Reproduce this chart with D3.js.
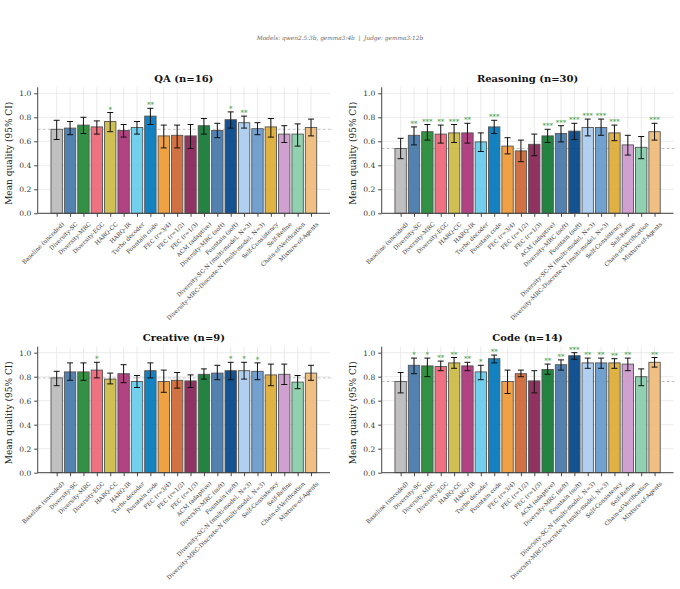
<!DOCTYPE html>
<html>
<head>
<meta charset="utf-8">
<script src="https://cdn.jsdelivr.net/npm/d3@7"></script>
<style>
  body { margin: 0; background: #fff; }
  svg { font-family: "DejaVu Serif", serif; }
</style>
</head>
<body>
<svg id="plot"></svg>
<script>
// methods on the x axis
const methods = [
  "Baseline (uncoded)", "Diversity-SC", "Diversity-MRC", "Diversity-EGC", "HARQ-CC",
  "HARQ-IR", "Turbo decoder", "Fountain code", "FEC (r=3/4)", "FEC (r=1/2)",
  "FEC (r=1/3)", "ACM (adaptive)", "Diversity-MRC (soft)", "Fountain (soft)",
  "Diversity-SC-N (multi-model, N=3)", "Diversity-MRC-Discrete-N (multi-model, N=3)",
  "Self-Consistency", "Self-Refine", "Chain-of-Verification", "Mixture-of-Agents"
];

const palette = [
  "#bbbbbb", "#4477aa", "#228833", "#ee6677", "#ccbb44", "#aa3377", "#66ccee",
  "#0077bb", "#ee9933", "#cc6633", "#882255", "#117733", "#4477aa", "#004488",
  "#aaccee", "#6699cc", "#ddaa33", "#cc99cc", "#88ccaa", "#eebb77"
];

const yTicks = [0, 0.2, 0.4, 0.6, 0.8, 1.0];

// QA
const qaMean = [0.70, 0.71, 0.735, 0.72, 0.765, 0.69, 0.715, 0.81, 0.645, 0.65, 0.645, 0.73, 0.69, 0.78, 0.755, 0.705, 0.72, 0.66, 0.66, 0.715];
const qaLo   = [0.615, 0.655, 0.665, 0.66, 0.68, 0.635, 0.66, 0.74, 0.545, 0.545, 0.54, 0.66, 0.63, 0.71, 0.71, 0.655, 0.635, 0.59, 0.56, 0.645];
const qaHi   = [0.775, 0.765, 0.80, 0.77, 0.84, 0.74, 0.765, 0.875, 0.735, 0.735, 0.74, 0.79, 0.75, 0.845, 0.81, 0.755, 0.79, 0.73, 0.745, 0.785];
const qaSig  = ["", "", "", "", "*", "", "", "**", "", "", "", "", "", "*", "**", "", "", "", "", ""];

// Reasoning
const reMean = [0.54, 0.65, 0.68, 0.66, 0.67, 0.67, 0.595, 0.72, 0.56, 0.52, 0.575, 0.645, 0.665, 0.685, 0.715, 0.715, 0.67, 0.57, 0.55, 0.68];
const reLo   = [0.455, 0.57, 0.61, 0.585, 0.59, 0.585, 0.515, 0.665, 0.495, 0.43, 0.48, 0.59, 0.595, 0.615, 0.645, 0.65, 0.605, 0.485, 0.455, 0.61];
const reHi   = [0.625, 0.72, 0.74, 0.735, 0.74, 0.75, 0.67, 0.775, 0.63, 0.61, 0.66, 0.70, 0.73, 0.75, 0.785, 0.785, 0.735, 0.65, 0.64, 0.75];
const reSig  = ["", "**", "***", "**", "***", "**", "", "***", "", "", "", "***", "***", "***", "***", "***", "***", "", "", "***"];

// Creative
const crMean = [0.79, 0.84, 0.84, 0.855, 0.78, 0.825, 0.76, 0.85, 0.76, 0.77, 0.765, 0.82, 0.83, 0.85, 0.85, 0.845, 0.815, 0.82, 0.755, 0.83];
const crLo   = [0.725, 0.77, 0.77, 0.79, 0.74, 0.75, 0.71, 0.79, 0.67, 0.705, 0.71, 0.78, 0.775, 0.775, 0.78, 0.775, 0.725, 0.735, 0.70, 0.77];
const crHi   = [0.845, 0.915, 0.915, 0.92, 0.83, 0.90, 0.81, 0.915, 0.855, 0.835, 0.815, 0.865, 0.895, 0.92, 0.92, 0.915, 0.905, 0.905, 0.81, 0.895];
const crSig  = ["", "", "", "*", "", "", "", "", "", "", "", "", "", "*", "*", "*", "", "", "", ""];

// Code
const coMean = [0.76, 0.895, 0.89, 0.885, 0.915, 0.89, 0.84, 0.95, 0.76, 0.825, 0.765, 0.86, 0.90, 0.975, 0.915, 0.915, 0.915, 0.905, 0.80, 0.92];
const coLo   = [0.665, 0.825, 0.80, 0.85, 0.87, 0.85, 0.775, 0.915, 0.66, 0.80, 0.665, 0.82, 0.855, 0.945, 0.87, 0.87, 0.87, 0.85, 0.725, 0.88];
const coHi   = [0.835, 0.955, 0.955, 0.93, 0.96, 0.92, 0.895, 0.98, 0.855, 0.855, 0.85, 0.905, 0.94, 1.0, 0.955, 0.955, 0.95, 0.955, 0.865, 0.96];
const coSig  = ["", "*", "*", "**", "**", "**", "*", "**", "", "", "", "**", "**", "***", "**", "**", "**", "**", "", "**"];

const W = 680, H = 589;
const svg = d3.select("#plot").attr("width", W).attr("height", H);

svg.append("text")
  .attr("x", W / 2).attr("y", 39.5)
  .attr("text-anchor", "middle")
  .attr("font-size", 5.8).attr("font-style", "italic")
  .attr("fill", "#666")
  .style("white-space", "pre")
  .text("Models: qwen2.5:3b, gemma3:4b  |  Judge: gemma3:12b");

const panels = [
  { title: "QA (n=16)", mean: qaMean, lo: qaLo, hi: qaHi, sig: qaSig, left: 37.7, right: 330, y0: 213.3 },
  { title: "Reasoning (n=30)", mean: reMean, lo: reLo, hi: reHi, sig: reSig, left: 381.7, right: 673.5, y0: 213.3 },
  { title: "Creative (n=9)", mean: crMean, lo: crLo, hi: crHi, sig: crSig, left: 37.7, right: 330, y0: 472.7 },
  { title: "Code (n=14)", mean: coMean, lo: coLo, hi: coHi, sig: coSig, left: 381.7, right: 673.5, y0: 472.7 }
];

var drawPanel = function (p) {
  const n = methods.length;
  const barW = 0.85;
  const pad = (n - 1 + barW) * 0.05;
  const x = d3.scaleLinear()
    .domain([-barW / 2 - pad, n - 1 + barW / 2 + pad])
    .range([p.left, p.right]);
  const y = d3.scaleLinear()
    .domain([0, 1.05])
    .range([p.y0, p.y0 - 126]);

  const g = svg.append("g");

  // grid
  g.selectAll(".hgrid").data(yTicks).join("line")
    .attr("x1", p.left).attr("x2", p.right)
    .attr("y1", d => y(d)).attr("y2", d => y(d))
    .attr("stroke", "#e6e6e6").attr("stroke-width", 0.8);
  g.selectAll(".vgrid").data(d3.range(n)).join("line")
    .attr("x1", d => x(d)).attr("x2", d => x(d))
    .attr("y1", y(0)).attr("y2", y(1.05))
    .attr("stroke", "#e6e6e6").attr("stroke-width", 0.8);

  // baseline reference
  g.append("line")
    .attr("x1", p.left).attr("x2", p.right + 3)
    .attr("y1", y(p.mean[0])).attr("y2", y(p.mean[0]))
    .attr("stroke", "#bbbbbb").attr("stroke-width", 0.9)
    .attr("stroke-dasharray", "3,2");

  // bars
  const unit = x(1) - x(0);
  g.selectAll(".bar").data(p.mean).join("rect")
    .attr("x", (d, i) => x(i) - unit * barW / 2)
    .attr("width", unit * barW)
    .attr("y", d => y(d))
    .attr("height", d => y(0) - y(d))
    .attr("fill", (d, i) => palette[i])
    .attr("fill-opacity", 0.92)
    .attr("stroke", "#555")
    .attr("stroke-width", 0.9);

  // error bars
  const eb = g.selectAll(".err").data(p.mean).join("g");
  eb.append("line")
    .attr("x1", (d, i) => x(i)).attr("x2", (d, i) => x(i))
    .attr("y1", (d, i) => y(p.lo[i])).attr("y2", (d, i) => y(p.hi[i]))
    .attr("stroke", "#111").attr("stroke-width", 1);
  eb.append("line")
    .attr("x1", (d, i) => x(i) - 3).attr("x2", (d, i) => x(i) + 3)
    .attr("y1", (d, i) => y(p.lo[i])).attr("y2", (d, i) => y(p.lo[i]))
    .attr("stroke", "#111").attr("stroke-width", 1);
  eb.append("line")
    .attr("x1", (d, i) => x(i) - 3).attr("x2", (d, i) => x(i) + 3)
    .attr("y1", (d, i) => y(p.hi[i])).attr("y2", (d, i) => y(p.hi[i]))
    .attr("stroke", "#111").attr("stroke-width", 1);

  // significance stars
  g.selectAll(".sig").data(p.sig).join("text")
    .attr("x", (d, i) => x(i))
    .attr("y", (d, i) => y(p.hi[i]) + 0.5)
    .attr("dy", "-0.2em")
    .attr("text-anchor", "middle")
    .attr("font-size", 7)
    .attr("fill", "#44a044")
    .text(d => d);

  // axes
  const yAxis = d3.axisLeft(y).tickValues(yTicks).tickFormat(d3.format(".1f")).tickSize(3.5).tickPadding(3);
  const ya = g.append("g").attr("transform", `translate(${p.left},0)`).call(yAxis);
  ya.select(".domain").attr("stroke", "#444").attr("d", `M0,${y(0)}V${y(1.05)}`);
  ya.selectAll(".tick line").attr("stroke", "#444");
  ya.selectAll("text").attr("font-size", 7.5).attr("fill", "#333").attr("font-family", "DejaVu Serif");

  const xAxis = d3.axisBottom(x).tickValues(d3.range(n)).tickFormat(i => methods[i]).tickSize(3.5).tickPadding(2);
  const xa = g.append("g").attr("transform", `translate(0,${y(0)})`).call(xAxis);
  xa.select(".domain").attr("stroke", "#444").attr("d", `M${p.left},0H${p.right}`);
  xa.selectAll(".tick line").attr("stroke", "#444");
  xa.selectAll("text")
    .attr("font-size", 5.8).attr("fill", "#333").attr("font-family", "DejaVu Serif")
    .attr("text-anchor", "end")
    .attr("dy", "0.35em")
    .attr("transform", "translate(2,6) rotate(-45)");

  g.append("text")
    .attr("transform", `translate(${p.left - 26},${y(0.5)}) rotate(-90)`)
    .attr("text-anchor", "middle")
    .attr("font-size", 9).attr("fill", "#222")
    .text("Mean quality (95% CI)");

  g.append("text")
    .attr("x", (p.left + p.right) / 2).attr("y", y(1.05) - 5.5)
    .attr("text-anchor", "middle")
    .attr("font-size", 10).attr("font-weight", "bold").attr("fill", "#111")
    .text(p.title);
};

panels.forEach(drawPanel);
</script>
</body>
</html>
